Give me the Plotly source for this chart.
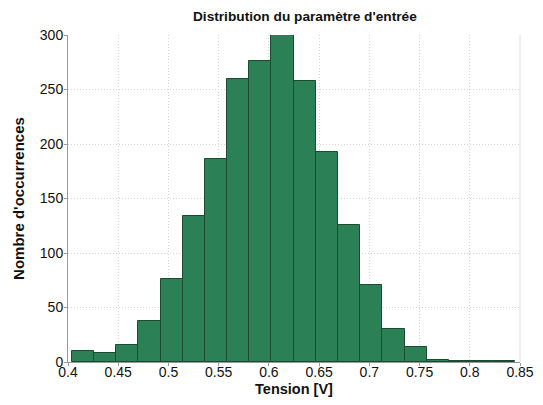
import plotly.graph_objects as go

bin_centers = [0.4148, 0.4369, 0.4590, 0.4811, 0.5032, 0.5253, 0.5473, 0.5694,
               0.5915, 0.6136, 0.6357, 0.6578, 0.6798, 0.7019, 0.7240, 0.7461,
               0.7682, 0.7903, 0.8123, 0.8344]
bin_width = 0.02208
counts = [10, 8, 16, 38, 76, 134, 186, 260, 276, 300, 258, 193, 126, 71, 30, 14,
          2, 1, 1, 1]
x_ticks = [0.4, 0.45, 0.5, 0.55, 0.6, 0.65, 0.7, 0.75, 0.8, 0.85]
x_tick_labels = ["0.4", "0.45", "0.5", "0.55", "0.6", "0.65", "0.7", "0.75", "0.8", "0.85"]
y_ticks = [0, 50, 100, 150, 200, 250, 300]

fig = go.Figure(go.Bar(
    x=bin_centers, y=counts, width=[bin_width] * len(counts),
    marker=dict(color="#2b8055", line=dict(color="#1d4a32", width=1)),
))

# the page body has an 8px margin, so the figure is sized/offset to compensate
W, H = 527, 389
font = "Liberation Sans, Arial, sans-serif"
fig.update_layout(
    width=W, height=H,
    margin=dict(l=60, r=15, t=27, b=35),
    paper_bgcolor="white", plot_bgcolor="white",
    showlegend=False, bargap=0,
    font=dict(family=font, size=14, color="#111"),
    title=dict(text="<b>Distribution du paramètre d'entrée</b>",
               font=dict(family=font, size=13.7, color="#111"),
               x=0.524, xref="paper", xanchor="center", y=1 - 8 / H, yanchor="middle"),
    xaxis=dict(range=[0.4, 0.85], tickvals=x_ticks, ticktext=x_tick_labels,
               automargin=False, ticklabelstandoff=-6,
               showgrid=True, gridcolor="#d4d4d4", griddash="1px,2px", gridwidth=1,
               showline=True, linecolor="#999", linewidth=1,
               ticks="outside", ticklen=3, tickcolor="#999",
               tickfont=dict(size=14, color="#111"), zeroline=False,
               title=dict(text="<b>Tension [V]</b>", font=dict(size=14.5, color="#111"), standoff=10)),
    yaxis=dict(range=[0, 300], tickvals=y_ticks,
               automargin=False, ticklabelstandoff=-2,
               showgrid=True, gridcolor="#d4d4d4", griddash="1px,2px", gridwidth=1,
               showline=True, linecolor="#999", linewidth=1,
               ticks="outside", ticklen=3, tickcolor="#999",
               tickfont=dict(size=14, color="#111"), zeroline=False,
               title=dict(text="<b>Nombre d'occurrences</b>", font=dict(size=15, color="#111"), standoff=11)),
    shapes=[dict(type="line", xref="paper", yref="paper", x0=1, x1=1, y0=0, y1=1,
                 line=dict(color="#dcdcdc", width=1))],
)

fig.write_html("out.html")
